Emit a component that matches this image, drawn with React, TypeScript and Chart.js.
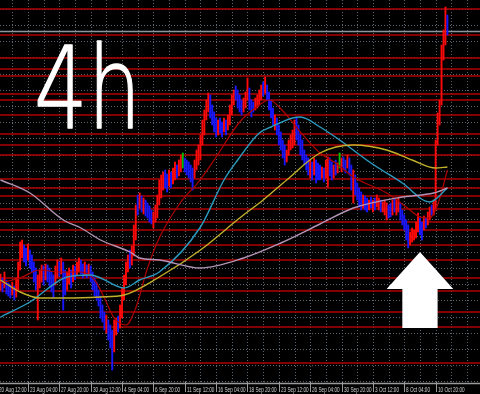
import { useEffect, useRef } from "react";
import { Chart, registerables } from "chart.js";

Chart.register(...registerables);

// Four-hour bars; bar 0 = 20 Aug 12:00, a time label every 16 bars.
const timeLabels = [
  "20 Aug 12:00", "23 Aug 04:00", "27 Aug 20:00", "30 Aug 12:00", "4 Sep 04:00",
  "6 Sep 20:00", "11 Sep 12:00", "16 Sep 04:00", "18 Sep 20:00", "23 Sep 12:00",
  "26 Sep 04:00", "30 Sep 20:00", "3 Oct 12:00", "8 Oct 04:00", "10 Oct 20:00",
];
const LABEL_EVERY = 16;
const GRID_EVERY = 8;

// Visible window (bars) and price range (points).
const VIEW_FIRST_BAR = 1.735;
const VIEW_LAST_BAR = 246.63;
const PRICE_MIN = 18;
const PRICE_MAX = 400;
const PRICE_GRID_TOP = 391.2;
const PRICE_GRID_STEP = 16.2;

// Bars start at index 2.
const FIRST_BAR = 2;
const barHighs = [
  126, 122, 128, 120, 117, 115, 118, 114, 122, 138,
  158, 160, 155, 152, 156, 150, 145, 138, 132, 125,
  130, 135, 134, 136, 135, 132, 128, 125, 134, 140,
  138, 142, 138, 130, 128, 132, 130, 135, 134, 138,
  142, 140, 136, 138, 135, 136, 134, 128, 122, 118,
  110, 104, 95, 88, 85, 80, 75, 70, 80, 82,
  84, 95, 112, 125, 138, 145, 150, 154, 175, 195,
  205, 207, 204, 202, 200, 197, 194, 190, 188, 195,
  205, 220, 225, 228, 230, 226, 230, 228, 232, 238,
  235, 240, 245, 247, 242, 240, 238, 235, 232, 240,
  250, 255, 265, 280, 290, 300, 307, 305, 295, 288,
  282, 280, 282, 278, 282, 280, 285, 295, 305, 310,
  314, 310, 305, 300, 302, 308, 322, 312, 300, 298,
  302, 305, 310, 315, 318, 323, 315, 308, 300, 292,
  285, 282, 275, 268, 260, 255, 250, 260, 265, 270,
  280, 282, 275, 265, 260, 250, 245, 242, 240, 238,
  242, 240, 237, 235, 233, 232, 240, 243, 242, 238,
  235, 240, 237, 247, 242, 243, 240, 245, 242, 235,
  230, 225, 217, 212, 208, 205, 204, 202, 200, 203,
  200, 202, 205, 202, 200, 198, 200, 197, 195, 197,
  200, 202, 200, 202, 197, 190, 185, 180, 175, 168,
  172, 170, 178, 187, 182, 178, 184, 182, 188, 193,
  195, 200, 260, 287, 300, 355, 370, 393, 385,
];
const barLows = [
  110, 108, 112, 106, 104, 102, 105, 100, 103, 110,
  130, 142, 138, 134, 140, 132, 128, 118, 110, 80,
  112, 118, 115, 120, 118, 114, 108, 102, 115, 122,
  124, 126, 90, 105, 110, 116, 112, 118, 120, 124,
  128, 126, 122, 124, 122, 124, 118, 110, 104, 100,
  94, 82, 78, 70, 67, 60, 52, 30, 48, 65,
  68, 72, 82, 100, 115, 128, 132, 135, 144, 160,
  185, 192, 188, 186, 184, 182, 178, 176, 172, 178,
  182, 195, 202, 210, 212, 208, 214, 212, 216, 220,
  222, 224, 228, 232, 228, 225, 222, 218, 210, 222,
  230, 235, 240, 255, 265, 280, 288, 282, 275, 268,
  263, 265, 267, 263, 268, 265, 270, 275, 285, 295,
  300, 292, 288, 285, 288, 292, 300, 290, 283, 288,
  290, 292, 295, 300, 304, 307, 300, 290, 282, 275,
  270, 265, 255, 250, 242, 235, 238, 245, 250, 252,
  255, 260, 255, 245, 240, 235, 230, 225, 222, 220,
  225, 217, 220, 220, 222, 218, 222, 213, 224, 220,
  222, 225, 227, 232, 228, 230, 227, 232, 225, 210,
  197, 205, 200, 193, 190, 192, 190, 188, 190, 192,
  188, 190, 193, 190, 188, 188, 185, 180, 182, 183,
  185, 188, 185, 188, 180, 175, 170, 160, 152, 155,
  158, 160, 162, 168, 165, 160, 170, 172, 175, 180,
  185, 185, 190, 255, 275, 295, 340, 355, 365,
];
// r = up bar, b = down bar, g = unchanged
const barDirections =
  "rbrbbbrbrr" + "rrbbrbbbbr" + "rrbrbbbbrr" + "brbbrrbrbr" + "rbbrbrbbbb" +
  "bbbbrbbbrr" + "brrrrrbrrr" + "brbrbbbbrr" + "rrrrbbrbrr" + "brrgbbbbbr" +
  "rrrrrrrbbb" + "brbbrbrrrr" + "bbbbrrrbbb" + "rrrrbrbbbb" + "rbbbbbrrrr" +
  "rbbbbbbbrb" + "rbbbrbrrbb" + "rbrgrbbrbb" + "rbbbbrbbrb" + "rbrrbrrrbb" +
  "rbrrbbbbbr" + "rrrrbbrbrr" + "brrrrrrrb";

// Moving averages as [bar, price] pairs.
const maFast = [
  [2, 117], [12, 122], [22, 130], [32, 128], [43, 128], [50, 120], [55, 102], [60, 82],
  [66, 75], [71, 92], [77, 132], [83, 162], [94, 198], [103, 218], [111, 240], [124, 278],
  [132, 292], [139, 300], [147, 287], [155, 268], [165, 247], [173, 237], [182, 223],
  [199, 207], [209, 193], [216, 183], [221, 182], [225, 195], [230, 230],
];
const maMedium = [
  [2, 83], [17, 98], [36, 123], [48, 125], [53, 122], [65, 112], [73, 120], [83, 128],
  [104, 173], [116, 220], [123, 240], [134, 267], [140, 273], [151, 282], [155, 283],
  [165, 273], [175, 260], [191, 237], [207, 217], [221, 198], [230, 212],
];
const maSlow = [
  [2, 120], [12, 108], [22, 102], [36, 102], [53, 103], [65, 105], [83, 123], [104, 150],
  [124, 182], [136, 200], [148, 220], [165, 247], [182, 255], [199, 250], [212, 240],
  [224, 232], [230, 233],
];
const maLong = [
  [2, 220], [17, 207], [34, 180], [43, 172], [53, 160], [68, 148], [73, 142], [83, 140],
  [104, 132], [126, 142], [145, 157], [165, 176], [182, 192], [207, 203], [223, 207],
  [230, 212],
];

// Horizontal support / resistance levels and the current bid.
const levelPrices = [
  391, 365, 342, 331, 324, 306, 300, 285, 266, 255, 245, 221,
  212, 204, 191, 178, 170, 155, 140, 122, 109, 88, 73, 37,
];
const bidPrice = 368.5;

// Up arrow marker under the October low.
const arrowBar = 216;
const arrowHalfHead = 17;
const arrowHalfShaft = 9;
const arrowTipPrice = 148;
const arrowNeckPrice = 111;
const arrowTailPrice = 72;

const barColor = (d: string) => (d === "r" ? "#ff0a0a" : d === "b" ? "#1818ff" : "#00c000");

const terminalPlugin = {
  id: "terminalDecor",
  beforeDraw(chart: any) {
    const { ctx, width, height } = chart;
    ctx.save();
    ctx.fillStyle = "#000";
    ctx.fillRect(0, 0, width, height);
    ctx.restore();
  },
  beforeDatasetsDraw(chart: any) {
    const { ctx, chartArea: a, scales } = chart;
    const x = scales.x;
    const y = scales.y;
    ctx.save();
    // dotted grid
    ctx.strokeStyle = "#5c6670";
    ctx.lineWidth = 1;
    ctx.setLineDash([1, 2]);
    for (let b = 0; b <= VIEW_LAST_BAR; b += GRID_EVERY) {
      const px = Math.round(x.getPixelForValue(b)) + 0.5;
      if (px < a.left || px > a.right) continue;
      ctx.beginPath();
      ctx.moveTo(px, a.top);
      ctx.lineTo(px, a.bottom);
      ctx.stroke();
    }
    for (let p = PRICE_GRID_TOP; p > PRICE_MIN; p -= PRICE_GRID_STEP) {
      const py = Math.round(y.getPixelForValue(p)) + 0.5;
      ctx.beginPath();
      ctx.moveTo(a.left, py);
      ctx.lineTo(a.right, py);
      ctx.stroke();
    }
    ctx.setLineDash([]);
    // levels
    ctx.strokeStyle = "#b00000";
    ctx.lineWidth = 1.5;
    for (const lv of levelPrices) {
      const py = y.getPixelForValue(lv);
      ctx.beginPath();
      ctx.moveTo(a.left, py);
      ctx.lineTo(a.right, py);
      ctx.stroke();
    }
    // bid line
    ctx.strokeStyle = "#8c969e";
    ctx.lineWidth = 1.6;
    const by = y.getPixelForValue(bidPrice);
    ctx.beginPath();
    ctx.moveTo(a.left, by);
    ctx.lineTo(a.right, by);
    ctx.stroke();
    ctx.restore();
  },
  afterDatasetsDraw(chart: any) {
    const { ctx, scales } = chart;
    const x = scales.x;
    const y = scales.y;
    ctx.save();
    // arrow
    ctx.fillStyle = "#ffffff";
    ctx.beginPath();
    ctx.moveTo(x.getPixelForValue(arrowBar), y.getPixelForValue(arrowTipPrice));
    ctx.lineTo(x.getPixelForValue(arrowBar + arrowHalfHead), y.getPixelForValue(arrowNeckPrice));
    ctx.lineTo(x.getPixelForValue(arrowBar + arrowHalfShaft), y.getPixelForValue(arrowNeckPrice));
    ctx.lineTo(x.getPixelForValue(arrowBar + arrowHalfShaft), y.getPixelForValue(arrowTailPrice));
    ctx.lineTo(x.getPixelForValue(arrowBar - arrowHalfShaft), y.getPixelForValue(arrowTailPrice));
    ctx.lineTo(x.getPixelForValue(arrowBar - arrowHalfShaft), y.getPixelForValue(arrowNeckPrice));
    ctx.lineTo(x.getPixelForValue(arrowBar - arrowHalfHead), y.getPixelForValue(arrowNeckPrice));
    ctx.closePath();
    ctx.fill();
    // timeframe caption
    ctx.translate(34, 128);
    ctx.scale(0.74, 1);
    ctx.font = "200 114px 'DejaVu Sans'";
    ctx.textBaseline = "alphabetic";
    ctx.strokeStyle = "#ffffff";
    ctx.lineWidth = 1.4;
    ctx.lineJoin = "round";
    ctx.fillText("4h", 0, 0);
    ctx.strokeText("4h", 0, 0);
    ctx.restore();
  },
  afterDraw(chart: any) {
    const { ctx, chartArea: a, scales, width } = chart;
    const x = scales.x;
    ctx.save();
    ctx.strokeStyle = "#9a9a9a";
    ctx.lineWidth = 1.6;
    ctx.beginPath();
    ctx.moveTo(0, a.bottom + 1.5);
    ctx.lineTo(width, a.bottom + 1.5);
    ctx.stroke();
    ctx.lineWidth = 1;
    ctx.fillStyle = "#d0d0d0";
    ctx.font = "7.5px 'Liberation Sans'";
    ctx.textBaseline = "alphabetic";
    timeLabels.forEach((label, k) => {
      const px = Math.round(x.getPixelForValue(k * LABEL_EVERY)) + 0.5;
      ctx.beginPath();
      ctx.moveTo(px, a.bottom);
      ctx.lineTo(px, a.bottom + 10);
      ctx.stroke();
      ctx.save();
      ctx.translate(px + 1.5, a.bottom + 10);
      ctx.scale(0.62, 1);
      ctx.fillText(label, 0, 0);
      ctx.restore();
    });
    ctx.restore();
  },
};

const maDataset = (points: number[][], color: string, width: number) => ({
  type: "line" as const,
  data: points.map(([b, v]) => ({ x: b, y: v })),
  borderColor: color,
  borderWidth: width,
  pointRadius: 0,
  cubicInterpolationMode: "monotone" as const,
  order: 1,
});

export default function App() {
  const canvasRef = useRef<HTMLCanvasElement | null>(null);

  useEffect(() => {
    const canvas = canvasRef.current;
    if (!canvas) return;
    const candles = barHighs.map((h, k) => ({ x: FIRST_BAR + k, y: [barLows[k], h] }));
    const chart = new Chart(canvas, {
      type: "bar",
      data: {
        datasets: [
          maDataset(maLong, "#b494b6", 1.4),
          maDataset(maSlow, "#c2b02a", 1.4),
          maDataset(maMedium, "#2b9cc0", 1.4),
          maDataset(maFast, "#b00000", 1.2),
          {
            type: "bar",
            data: candles as any,
            backgroundColor: barDirections.split("").map(barColor),
            borderWidth: 0,
            barThickness: 1.25,
            grouped: false,
            order: 2,
          } as any,
        ],
      },
      options: {
        animation: false,
        responsive: false,
        maintainAspectRatio: false,
        events: [],
        layout: { padding: { left: 0, right: 0, top: 0, bottom: 12 } },
        plugins: { legend: { display: false }, tooltip: { enabled: false } },
        scales: {
          x: { type: "linear", display: false, min: VIEW_FIRST_BAR, max: VIEW_LAST_BAR, offset: false },
          y: { type: "linear", display: false, min: PRICE_MIN, max: PRICE_MAX },
        },
      },
      plugins: [terminalPlugin],
    });
    return () => chart.destroy();
  }, []);

  return (
    <div style={{ position: "fixed", left: 0, top: 0, width: 480, height: 394, background: "#000" }}>
      <canvas ref={canvasRef} width={480} height={394} style={{ display: "block" }} />
    </div>
  );
}
